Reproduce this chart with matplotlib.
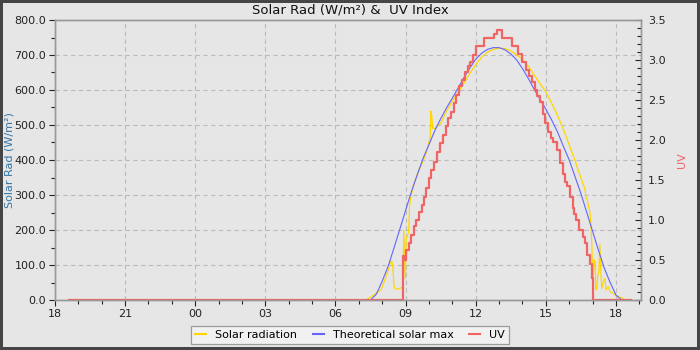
import matplotlib.pyplot as plt
from matplotlib.ticker import MultipleLocator, FormatStrFormatter

# hours relative to midnight; negative values are the previous evening
hour_ticks = [-6, -3, 0, 3, 6, 9, 12, 15, 18]
hour_labels = ['18', '21', '00', '03', '06', '09', '12', '15', '18']

# theoretical solar max (W/m2)
sm_t = [-5.42, 7.50, 7.75, 8.00, 8.25, 8.50, 8.75, 9.00, 9.25, 9.50, 9.75,
        10.00, 10.25, 10.50, 10.75, 11.00, 11.25, 11.50, 11.75, 12.00, 12.25,
        12.50, 12.75, 13.00, 13.25, 13.50, 13.75, 14.00, 14.25, 14.50, 14.75,
        15.00, 15.25, 15.50, 15.75, 16.00, 16.25, 16.50, 16.75, 17.00, 17.25,
        17.50, 17.75, 18.00, 18.25, 18.63]
sm_v = [0, 0, 17, 54, 96, 148, 202, 256, 310, 358, 405,
        444, 484, 518, 549, 577, 606, 636, 663, 688, 705,
        716, 721, 721, 715, 703, 686, 661, 633, 602, 574,
        545, 514, 480, 439, 400, 352, 304, 250, 196, 142,
        91, 50, 14, 0, 0]

# measured solar radiation (W/m2)
sr_t = [-5.42, 7.30, 7.50, 7.75, 7.95, 8.10, 8.25, 8.35, 8.40, 8.46, 8.50,
        8.55, 8.70, 8.85, 8.89, 8.92, 8.96, 8.99, 9.02, 9.08, 9.13, 9.17,
        9.22, 9.35, 9.50, 9.75, 9.90, 10.05, 10.08, 10.12, 10.16, 10.25,
        10.50, 10.75, 11.00, 11.25, 11.50, 11.75, 12.00, 12.25, 12.50, 12.75,
        13.00, 13.25, 13.50, 13.75, 14.00, 14.25, 14.50, 14.75, 15.00, 15.25,
        15.50, 15.75, 16.00, 16.25, 16.50, 16.67, 16.72, 16.76, 16.80, 16.85,
        16.89, 16.94, 16.97, 17.00, 17.03, 17.06, 17.10, 17.14, 17.17, 17.22,
        17.27, 17.31, 17.34, 17.39, 17.46, 17.53, 17.57, 17.67, 17.74, 17.89,
        18.03, 18.17, 18.31, 18.40, 18.63]
sr_v = [0, 0, 8, 20, 30, 55, 85, 108, 112, 92, 40,
        32, 32, 36, 40, 200, 110, 60, 175, 185, 195, 270,
        295, 330, 360, 398, 425, 465, 540, 525, 490, 490,
        505, 540, 568, 594, 620, 648, 672, 694, 708, 716,
        720, 718, 712, 700, 688, 668, 643, 618, 595, 562,
        527, 488, 443, 398, 348, 318, 290, 290, 275, 262,
        248, 200, 150, 60, 62, 115, 110, 30, 29, 70,
        81, 160, 95, 33, 52, 62, 29, 38, 24, 19,
        11, 8, 4, 0, 0]

# UV index, stepped
uv_t = [-5.42, 8.90, 8.95, 9.03, 9.14, 9.24, 9.36, 9.46, 9.57, 9.69, 9.79,
        9.89, 9.99, 10.09, 10.20, 10.34, 10.46, 10.60, 10.71, 10.81, 10.96,
        11.06, 11.17, 11.28, 11.43, 11.55, 11.65, 11.76, 11.88, 12.03, 12.35,
        12.80, 12.89, 13.13, 13.53, 13.80, 14.00, 14.15, 14.28, 14.39, 14.53,
        14.64, 14.74, 14.86, 14.96, 15.10, 15.20, 15.31, 15.46, 15.60, 15.74,
        15.81, 15.89, 16.03, 16.14, 16.22, 16.29, 16.43, 16.57, 16.67, 16.77,
        16.89, 16.96, 17.00, 18.63]
uv_v = [0, 0.55, 0.50, 0.62, 0.71, 0.81, 0.92, 1.00, 1.10, 1.19, 1.29,
        1.40, 1.52, 1.63, 1.73, 1.85, 1.96, 2.06, 2.17, 2.27, 2.35,
        2.46, 2.56, 2.67, 2.75, 2.85, 2.92, 2.98, 3.06, 3.17, 3.28,
        3.33, 3.37, 3.28, 3.18, 3.07, 2.97, 2.87, 2.80, 2.72, 2.62,
        2.55, 2.47, 2.33, 2.21, 2.10, 2.03, 1.98, 1.87, 1.71, 1.58,
        1.48, 1.42, 1.29, 1.15, 1.08, 1.00, 0.88, 0.79, 0.71, 0.56,
        0.45, 0.27, 0.0, 0.0]

bg = '#e6e6e6'
spine_col = '#999999'

fig = plt.figure(figsize=(7, 3.5), dpi=100, facecolor=bg,
                 edgecolor='#454545', linewidth=2.9)
ax = fig.add_axes([55 / 700, 50 / 350, 586 / 700, 280 / 350])
ax.set_facecolor(bg)

l1, = ax.plot(sr_t, sr_v, color='#ffd700', lw=0.9, label='Solar radiation')
l2, = ax.plot(sm_t, sm_v, color='#6464ff', lw=0.8, label='Theoretical solar max')

ax.set_xlim(-6, 19.07)
ax.set_ylim(0, 800)
ax.set_xticks(hour_ticks)
ax.set_xticklabels(hour_labels)
ax.xaxis.set_minor_locator(MultipleLocator(1))
ax.yaxis.set_major_locator(MultipleLocator(100))
ax.yaxis.set_minor_locator(MultipleLocator(50))
ax.yaxis.set_major_formatter(FormatStrFormatter('%.1f'))
ax.grid(True, which='major', color='#bbbbbb', linestyle=(0, (4, 3)), lw=0.8)
ax.tick_params(axis='both', which='major', labelsize=8, colors='#222222',
               length=4.5, width=0.8)
ax.tick_params(axis='both', which='minor', length=3, width=0.8, colors='#222222')
ax.tick_params(axis='x', pad=2)
ax.tick_params(axis='y', pad=2)
ax.set_ylabel('Solar Rad (W/m²)', fontsize=8, color='#2f74a8')
ax.yaxis.set_label_coords(-40 / 586, 0.5)

ax2 = ax.twinx()
l3, = ax2.step(uv_t, uv_v, where='post', color='#f06464', lw=1.6, label='UV')
ax2.set_ylim(0, 3.5)
ax2.yaxis.set_major_locator(MultipleLocator(0.5))
ax2.yaxis.set_minor_locator(MultipleLocator(0.1))
ax2.yaxis.set_major_formatter(FormatStrFormatter('%.1f'))
ax2.tick_params(axis='y', which='both', direction='in', colors='#222222',
                labelsize=8, width=0.8, pad=5)
ax2.tick_params(axis='y', which='major', length=4)
ax2.tick_params(axis='y', which='minor', length=3)
ax2.set_ylabel('UV', fontsize=8, color='#f06464')
ax2.yaxis.set_label_coords(1 + 36 / 586, 0.5)

for a in (ax, ax2):
    for s in a.spines.values():
        s.set_color(spine_col)
        s.set_linewidth(1.0)

fig.text(0.5, 1 - 10 / 350, 'Solar Rad (W/m²) &  UV Index', ha='center',
         va='center', fontsize=9.5, color='#111111')

leg = fig.legend(handles=[l1, l2, l3], loc='lower center', ncol=3,
                 bbox_to_anchor=(0.5, 0.0055), fontsize=8, frameon=True,
                 fancybox=False, handlelength=1.0, columnspacing=1.4,
                 handletextpad=0.8, borderpad=0.35, borderaxespad=0.4)
leg.get_frame().set_facecolor('#f4f4f4')
leg.get_frame().set_edgecolor('#888888')
leg.get_frame().set_linewidth(0.9)
for h in leg.get_lines():
    h.set_linewidth(1.5)

fig.savefig('out.png', dpi=100, facecolor=fig.get_facecolor(),
            edgecolor=fig.get_edgecolor())
